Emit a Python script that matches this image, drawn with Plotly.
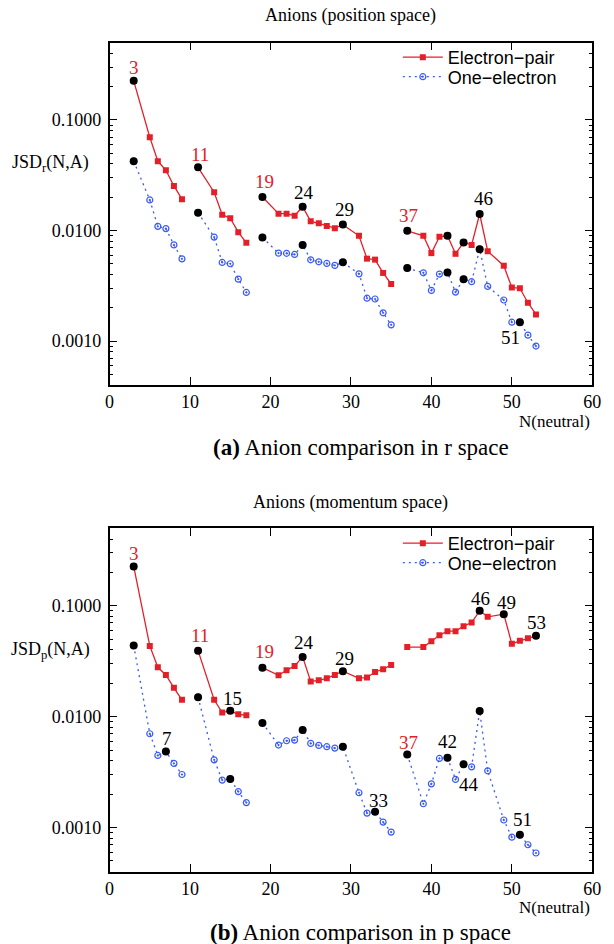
import math
import plotly.graph_objects as go

# ---------------- data ----------------
N = [3, 5, 6, 7, 8, 9, 10, 11, 13, 14, 15, 16, 17, 18, 19, 21, 22, 23, 24, 25, 26, 27, 28, 29,
     31, 32, 33, 34, 35, 36, 37, 39, 40, 41, 42, 43, 44, 45, 46, 47, 49, 50, 51, 52, 53]

r_pair = [0.226, 0.0697, 0.0424, 0.0351, 0.0253, 0.0192, None,
          0.0373, 0.0222, 0.0139, 0.0129, 0.00966, 0.00774, None,
          0.0201, 0.0142, 0.0142, 0.0136, 0.0164, 0.0121, 0.0116, 0.0110, 0.0105, 0.0113,
          0.00895, 0.00556, 0.00545, 0.00413, 0.00328, None,
          0.00993, 0.00895, 0.00624, 0.00877, 0.00895, 0.00615, 0.0078, 0.00741, 0.0141,
          0.0065, 0.0048, 0.00305, 0.0030, 0.00222, 0.00174]

r_one = [0.0424, 0.0189, 0.0109, 0.0104, 0.00741, 0.00554, None,
         0.0145, 0.00871, 0.00514, 0.0050, 0.00363, 0.00275, None,
         0.00865, 0.00624, 0.00622, 0.00607, 0.00741, 0.00543, 0.00521, 0.00503, 0.00483, 0.00516,
         0.00405, 0.00244, 0.0024, 0.0018, 0.0014, None,
         0.00457, 0.00414, 0.00287, 0.00403, 0.00417, 0.00277, 0.00363, 0.00344, 0.00678,
         0.00312, 0.00235, 0.00148, 0.00148, 0.00113, 0.0009]

p_pair = [0.2265, 0.0435, 0.0279, 0.0238, 0.0182, 0.0142, None,
          0.0394, 0.0142, 0.0109, 0.0113, 0.0105, 0.0103, None,
          0.0277, 0.0236, 0.0262, 0.0287, 0.0346, 0.0208, 0.0213, 0.0222, 0.0238, 0.0257,
          0.0222, 0.0226, 0.0253, 0.0268, 0.0293, None,
          0.0424, 0.0424, 0.048, 0.0543, 0.059, 0.059, 0.0655, 0.0707, 0.0901,
          0.0796, 0.0841, 0.0454, 0.0483, 0.051, 0.0536]

p_one = [0.0438, 0.00702, 0.00447, 0.00486, 0.00379, 0.00301, None,
         0.0150, 0.00408, 0.00268, 0.00274, 0.00211, 0.00168, None,
         0.00877, 0.00555, 0.00607, 0.00615, 0.00758, 0.00574, 0.00551, 0.00536, 0.00521, 0.00536,
         0.00206, 0.00135, 0.00139, 0.00112, 0.00091, None,
         0.00457, 0.00164, 0.00248, 0.0042, 0.00426, 0.00272, 0.00373, 0.00353, 0.01125,
         0.00325, 0.00117, 0.00082, 0.00086, 0.0007, 0.00059]

# highlighted atoms (black dots)
r_pair_hl = [3, 11, 19, 24, 29, 37, 42, 44, 46]
r_one_hl = [3, 11, 19, 24, 29, 37, 42, 44, 46, 51]
p_pair_hl = [3, 11, 15, 19, 24, 29, 46, 49, 53]
p_one_hl = [3, 7, 11, 15, 19, 24, 29, 33, 37, 42, 44, 46, 51]

# point labels: (series, N, red?)
r_labels = [("pair", 3, True), ("pair", 11, True), ("pair", 19, True), ("pair", 24, False),
            ("pair", 29, False), ("pair", 37, True), ("pair", 46, False), ("one", 51, False)]
p_labels = [("pair", 3, True), ("pair", 11, True), ("one", 7, False), ("pair", 15, False),
            ("pair", 19, True), ("pair", 24, False), ("pair", 29, False), ("pair", 46, False),
            ("pair", 49, False), ("pair", 53, False), ("one", 37, True), ("one", 42, False),
            ("one", 44, False), ("one", 33, False), ("one", 51, False)]

tick_vals = [0.001, 0.01, 0.1]
tick_text = ["0.0010", "0.0100", "0.1000"]
x_ticks = [0, 10, 20, 30, 40, 50, 60]

# ---------------- style ----------------
RED = "#e3202a"
BLUE = "#3a5af5"
SERIF = "Liberation Serif"
SANS = "Liberation Sans"
W, H = 614, 944

# label offsets (pixels) keyed by (plot, series, N)
offsets = {
    ("r", "pair", 3): (0, 13), ("r", "pair", 11): (2, 13), ("r", "pair", 19): (2, 15),
    ("r", "pair", 24): (1, 14), ("r", "pair", 29): (2, 15), ("r", "pair", 37): (1, 15),
    ("r", "pair", 46): (4, 15), ("r", "one", 51): (-9, -15),
    ("p", "pair", 3): (0, 13), ("p", "pair", 11): (2, 15), ("p", "one", 7): (1, 13),
    ("p", "pair", 15): (2, 12), ("p", "pair", 19): (2, 16), ("p", "pair", 24): (1, 14),
    ("p", "pair", 29): (2, 13), ("p", "pair", 46): (1, 12), ("p", "pair", 49): (3, 12),
    ("p", "pair", 53): (1, 13), ("p", "one", 37): (1, 12), ("p", "one", 42): (0, 16),
    ("p", "one", 44): (5, -20), ("p", "one", 33): (3, 11), ("p", "one", 51): (3, 15),
}

def lookup(series, n):
    return series[N.index(n)]

def py(px):
    return (H - px) / H

fig = go.Figure()

panels = [
    ("r", r_pair, r_one, r_pair_hl, r_one_hl, r_labels, "x", "y", "legend", "legend3"),
    ("p", p_pair, p_one, p_pair_hl, p_one_hl, p_labels, "x2", "y2", "legend2", "legend4"),
]

annotations = []
for key, pair, one, hl_pair, hl_one, labels, xa, ya, lg_a, lg_b in panels:
    fig.add_trace(go.Scatter(
        x=N, y=pair, mode="lines+markers", name="Electron\u2212pair",
        line=dict(color=RED, width=1.3),
        marker=dict(symbol="square", size=6, color=RED),
        xaxis=xa, yaxis=ya, legend=lg_a, connectgaps=False))
    fig.add_trace(go.Scatter(
        x=N, y=one, mode="lines+markers", name="One\u2212electron",
        line=dict(color=BLUE, width=1.3, dash="2px,4px"),
        marker=dict(symbol="circle-open-dot", size=6, color=BLUE, line=dict(width=1.2, color=BLUE)),
        xaxis=xa, yaxis=ya, legend=lg_b, connectgaps=False))
    fig.add_trace(go.Scatter(
        x=hl_pair, y=[lookup(pair, n) for n in hl_pair], mode="markers",
        marker=dict(symbol="circle", size=8, color="black"),
        showlegend=False, xaxis=xa, yaxis=ya, hoverinfo="skip"))
    fig.add_trace(go.Scatter(
        x=hl_one, y=[lookup(one, n) for n in hl_one], mode="markers",
        marker=dict(symbol="circle", size=8, color="black"),
        showlegend=False, xaxis=xa, yaxis=ya, hoverinfo="skip"))
    for series, n, is_red in labels:
        vals = pair if series == "pair" else one
        dx, dy = offsets[(key, series, n)]
        annotations.append(dict(
            x=n, y=math.log10(lookup(vals, n)), xref=xa, yref=ya,
            text=str(n), showarrow=False, xshift=dx, yshift=dy,
            font=dict(family=SERIF, size=19, color=RED if is_red else "black")))

x_dom = [107 / W, 601 / W]
top_dom = [py(385), py(42.7)]
bot_dom = [py(871.7), py(528.3)]
yrange = [math.log10(4e-4), math.log10(0.5)]

minor_vals = [m * 10 ** e for e in (-4, -3, -2, -1) for m in range(2, 10)]

axis_common = dict(showline=True, linecolor="black", linewidth=1.5, mirror="ticks",
                   ticks="inside", ticklen=8, tickwidth=1.2, tickcolor="black",
                   showgrid=False, zeroline=False,
                   tickfont=dict(family=SERIF, size=18, color="black"))

xcfg = dict(axis_common, range=[0, 60], tickvals=x_ticks, domain=x_dom)
ycfg = dict(axis_common, type="log", range=yrange, tickvals=tick_vals, ticktext=tick_text,
            ticklabelstandoff=3,
            minor=dict(tickvals=minor_vals, ticks="inside", ticklen=4, tickwidth=1,
                       tickcolor="black", showgrid=False))

def legend_cfg(ypix):
    return dict(x=402 / W, y=py(ypix), xanchor="left", yanchor="middle",
                font=dict(family=SANS, size=18, color="black"),
                bgcolor="rgba(0,0,0,0)", itemwidth=40, tracegroupgap=0)

fig.update_layout(
    width=W, height=H, margin=dict(l=0, r=0, t=0, b=0),
    paper_bgcolor="white", plot_bgcolor="white",
    xaxis=dict(xcfg, anchor="y"),
    yaxis=dict(ycfg, domain=top_dom, anchor="x"),
    xaxis2=dict(xcfg, anchor="y2"),
    yaxis2=dict(ycfg, domain=bot_dom, anchor="x2"),
    legend=legend_cfg(57.5),
    legend3=legend_cfg(77),
    legend2=legend_cfg(543.5),
    legend4=legend_cfg(563),
    showlegend=True,
)

text_annots = [
    ("Anions (position space)", 354, 15, "center", 18),
    ("Anions (momentum space)", 354, 502, "center", 18),
    ("JSD<sub>r</sub>(N,A)", 47, 164, "center", 18),
    ("JSD<sub>p</sub>(N,A)", 47, 650, "center", 18),
    ("N(neutral)", 601, 421, "right", 17),
    ("N(neutral)", 601, 907, "right", 17),
    ("<b>(a)</b> Anion comparison in r space", 364, 447, "center", 23),
    ("<b>(b)</b> Anion comparison in p space", 364, 932, "center", 23),
]
for txt, xp, ypix, anchor, size in text_annots:
    annotations.append(dict(
        x=xp / W, y=py(ypix), xref="paper", yref="paper", text=txt, showarrow=False,
        xanchor=anchor, yanchor="middle",
        font=dict(family=SERIF, size=size, color="black")))

fig.update_layout(annotations=annotations)
fig.write_html("out.html")
